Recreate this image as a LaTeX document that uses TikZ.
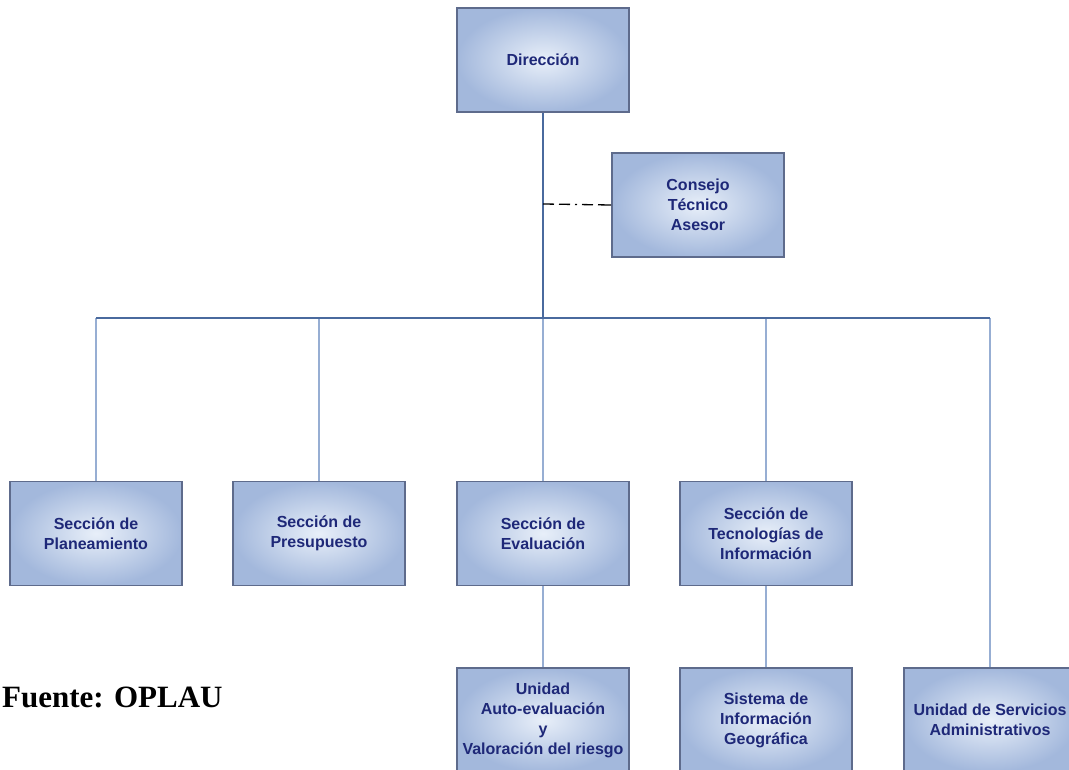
\documentclass[tikz,border=0pt]{standalone}
\usepackage{fontspec}
\setsansfont{Liberation Sans}
\newfontfamily\quellfont{Liberation Serif}
\usepackage{xcolor}
\usetikzlibrary{positioning}

\definecolor{kastenrand}{HTML}{5E6B8C}
\definecolor{kasteninnen}{HTML}{E8EFF9}
\definecolor{kastenaussen}{HTML}{A3B8DC}
\definecolor{kastentext}{HTML}{1E2878}
\definecolor{stamm}{HTML}{4A6A9E}
\definecolor{ast}{HTML}{97AED3}

\begin{document}
\begin{tikzpicture}[x=1pt, y=-1pt]

    % --- 1. Rahmen (Bildgroesse festlegen) ---
    \useasboundingbox (0,0) rectangle (1069,770);

    % --- 2. Stile ---
    \tikzset{kasten/.style={draw=kastenrand, line width=1.6pt, inner color=kasteninnen, outer color=kastenaussen,
                            minimum width=172pt, minimum height=104pt, align=center, text=kastentext,
                            font=\sffamily\bfseries\fontsize{16}{20}\selectfont}}
    \tikzset{stammlinie/.style={stamm, line width=2pt}}
    \tikzset{astlinie/.style={ast, line width=1.6pt}}

    % --- 3. Kaesten ---
    \node[kasten] (box-direccion) at (543,60) {Dirección};
    \node[kasten] (box-consejo) at (698,205) {Consejo\\Técnico\\Asesor};

    \node[kasten] (box-planeamiento) at (96,533.5) {Sección de\\Planeamiento};
    \node[kasten] (box-presupuesto) at (319,533.5) {Sección de\\Presupuesto};
    \node[kasten] (box-evaluacion) at (543,533.5) {Sección de\\Evaluación};
    \node[kasten] (box-tecnologias) at (766,533.5) {Sección de\\Tecnologías de\\Información};

    \node[kasten] (box-unidad) at (543,720) {Unidad\\Auto-evaluación\\y\\Valoración del riesgo};
    \node[kasten] (box-sistema) at (766,720) {Sistema de\\Información\\Geográfica};
    \node[kasten] (box-servicios) at (990,720) {Unidad de Servicios\\Administrativos};

    % --- 4. Verbindungslinien ---
    \coordinate (bus) at (543,318);
    \coordinate (bus-links) at (box-planeamiento.north |- bus);
    \coordinate (bus-rechts) at (box-servicios.north |- bus);
    \coordinate (abzweig) at (543,204);

    \draw[astlinie] (box-planeamiento.north) -- (bus-links);
    \draw[astlinie] (box-presupuesto.north) -- (box-presupuesto.north |- bus);
    \draw[astlinie] (box-evaluacion.north) -- (bus);
    \draw[astlinie] (box-tecnologias.north) -- (box-tecnologias.north |- bus);
    \draw[astlinie] (box-servicios.north) -- (bus-rechts);
    \draw[astlinie] (box-evaluacion.south) -- (box-unidad.north);
    \draw[astlinie] (box-tecnologias.south) -- (box-sistema.north);

    % Hauptlinie und Beirat (strichpunktiert)
    \draw[stammlinie] (box-direccion.south) -- (bus);
    \draw[stammlinie, line width=1.8pt] (bus-links) -- (bus-rechts);
    \draw[black, line width=1.3pt, dash pattern=on 11pt off 5pt on 11pt off 5pt on 2pt off 5pt on 11pt off 5pt on 14pt off 10pt]
        (abzweig) -- (box-consejo.west);

    % --- 5. Quelle ---
    \node[anchor=base west, inner sep=0pt, font=\quellfont\bfseries\fontsize{31}{36}\selectfont] (txt-fuente) at (2,707) {Fuente: OPLAU};

\end{tikzpicture}
\end{document}
